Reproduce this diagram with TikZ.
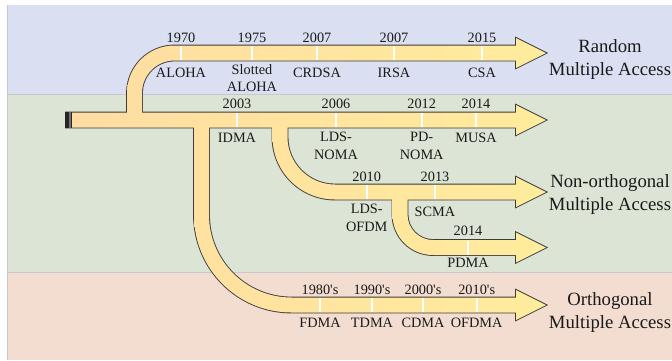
\documentclass[tikz,border=0pt]{standalone}
\usepackage{fontspec}
\setmainfont{Liberation Serif}
\definecolor{bgblue}{HTML}{DAE0F2}
\definecolor{bggreen}{HTML}{DCE4D5}
\definecolor{bgpink}{HTML}{F3DDD1}
\definecolor{bandline}{HTML}{C6CACF}
\definecolor{arrowline}{HTML}{3C3C3C}
\definecolor{fillL}{HTML}{FFDCA2}
\definecolor{fillR}{HTML}{FFEC9C}
\definecolor{txt}{HTML}{1A1A1A}
\tikzset{
  outl/.style={draw=arrowline, line width=1.8pt, line join=miter},
  tickmark/.style={draw=white, line width=1.6pt},
  yr/.style={font=\fontsize{14.3}{17.5}\selectfont, inner sep=0pt, text=txt},
  lab/.style={font=\fontsize{14.3}{17.5}\selectfont, align=center, inner sep=0pt, text=txt},
  big/.style={font=\fontsize{18.7}{23}\selectfont, align=center, inner sep=0pt, text=txt},
}
\begin{document}
\begin{tikzpicture}[x=1pt,y=-1pt]
\useasboundingbox (0,0) rectangle (672,360);
% background bands
\fill[white] (0,0) rectangle (672,360);
\fill[bgblue] (7,5) rectangle (672,94);
\fill[bggreen] (7,94) rectangle (672,272);
\fill[bgpink] (7,272) rectangle (672,360);
\draw[bandline, line width=1pt] (7,94) -- (672,94);
\draw[bandline, line width=1pt] (7,272) -- (672,272);
\draw[bandline, line width=1pt] (7,5) -- (7,360);
% arrow shapes
\path[save path=\pM] (66,112.5) -- (516,112.5) -- (516,105) -- (546,120) -- (516,135) -- (516,127.5) -- (66,127.5) -- cycle;
\path[save path=\pR] (127,120) -- (127,93) arc[start angle=180,end angle=270,radius=47.5] -- (516,45.5) -- (516,38) -- (546,53) -- (516,68) -- (516,60.5) -- (174.5,60.5) arc[start angle=270,end angle=180,radius=32.5] -- (142,120) -- cycle;
\path[save path=\pO] (194,120) -- (194,215) arc[start angle=180,end angle=90,radius=97.5] -- (516,312.5) -- (516,320) -- (546,305) -- (516,290) -- (516,297.5) -- (291.5,297.5) arc[start angle=90,end angle=180,radius=82.5] -- (209,120) -- cycle;
\path[save path=\pN] (272.5,120) -- (272.5,137) arc[start angle=180,end angle=90,radius=62.5] -- (516,199.5) -- (516,207) -- (546,192) -- (516,177) -- (516,184.5) -- (335,184.5) arc[start angle=90,end angle=180,radius=47.5] -- (287.5,120) -- cycle;
\path[save path=\pP] (392.5,192) -- (392.5,214.5) arc[start angle=180,end angle=90,radius=40.5] -- (516,255) -- (516,262.5) -- (546,247.5) -- (516,232.5) -- (516,240) -- (433,240) arc[start angle=90,end angle=180,radius=25.5] -- (407.5,192) -- cycle;
% outlines
\path[outl, use path=\pM];
\path[outl, use path=\pR];
\path[outl, use path=\pO];
\path[outl, use path=\pN];
\path[outl, use path=\pP];
% fills
\begin{scope}\path[clip, use path=\pM]; \shade[left color=fillL, right color=fillR] (60,0) rectangle (550,360);\end{scope}
\begin{scope}\path[clip, use path=\pR]; \shade[left color=fillL, right color=fillR] (60,0) rectangle (550,360);\end{scope}
\begin{scope}\path[clip, use path=\pO]; \shade[left color=fillL, right color=fillR] (60,0) rectangle (550,360);\end{scope}
\begin{scope}\path[clip, use path=\pN]; \shade[left color=fillL, right color=fillR] (60,0) rectangle (550,360);\end{scope}
\begin{scope}\path[clip, use path=\pP]; \shade[left color=fillL, right color=fillR] (60,0) rectangle (550,360);\end{scope}
% left end cap
\fill[black!85] (65.2,111.7) rectangle (69,128.3);
\fill[black!55] (69,111.7) rectangle (70.7,128.3);
\fill[black!85] (70.7,111.7) rectangle (72.3,128.3);
% ticks
\foreach \x in {181,252,317,394,482} \draw[tickmark] (\x,46) -- (\x,60);
\foreach \x in {237,336,421.7,476} \draw[tickmark] (\x,113) -- (\x,127);
\foreach \x in {366.7,435} \draw[tickmark] (\x,185) -- (\x,199);
\draw[tickmark] (468,240.5) -- (468,254.5);
\foreach \x in {320,372,423,476.7} \draw[tickmark] (\x,298) -- (\x,312);
% random MA labels
\node[yr] (r1970) at (181,37.5) {1970};
\node[yr] (r1975) at (252,37.5) {1975};
\node[yr] (r2007a) at (317,37.5) {2007};
\node[yr] (r2007b) at (394,37.5) {2007};
\node[yr] (r2015) at (482,37.5) {2015};
\node[lab] (aloha) at (181,73) {ALOHA};
\node[lab] (saloha) at (252,78) {Slotted\\ALOHA};
\node[lab] (crdsa) at (317,73) {CRDSA};
\node[lab] (irsa) at (394,72.5) {IRSA};
\node[lab] (csa) at (482,72.5) {CSA};
% main bar labels
\node[yr] (m2003) at (237,104) {2003};
\node[yr] (m2006) at (336,104) {2006};
\node[yr] (m2012) at (421.7,104) {2012};
\node[yr] (m2014) at (476,104) {2014};
\node[lab] (idma) at (237,138) {IDMA};
\node[lab] (ldsnoma) at (336,146) {LDS-\\NOMA};
\node[lab] (pdnoma) at (421.7,146) {PD-\\NOMA};
\node[lab] (musa) at (476,138) {MUSA};
% NOMA arrow labels
\node[yr] (n2010) at (366.7,177) {2010};
\node[yr] (n2013) at (435,177) {2013};
\node[lab] (ldsofdm) at (366.7,218) {LDS-\\OFDM};
\node[lab] (scma) at (435,211.7) {SCMA};
\node[yr] (p2014) at (468,231) {2014};
\node[lab] (pdma) at (468,262.7) {PDMA};
% orthogonal labels
\node[yr] (o1980) at (320,290) {1980\textquotesingle s};
\node[yr] (o1990) at (372,290) {1990\textquotesingle s};
\node[yr] (o2000) at (423,290) {2000\textquotesingle s};
\node[yr] (o2010) at (476.7,290) {2010\textquotesingle s};
\node[lab] (fdma) at (320,322.7) {FDMA};
\node[lab] (tdma) at (372,322.7) {TDMA};
\node[lab] (cdma) at (423,322.7) {CDMA};
\node[lab] (ofdma) at (476.7,322.7) {OFDMA};
% category labels
\node[big] (rma) at (610,59.5) {Random\\Multiple Access};
\node[big] (noma) at (610,194.5) {Non-orthogonal\\Multiple Access};
\node[big] (oma) at (610,312) {Orthogonal\\Multiple Access};
\end{tikzpicture}
\end{document}
